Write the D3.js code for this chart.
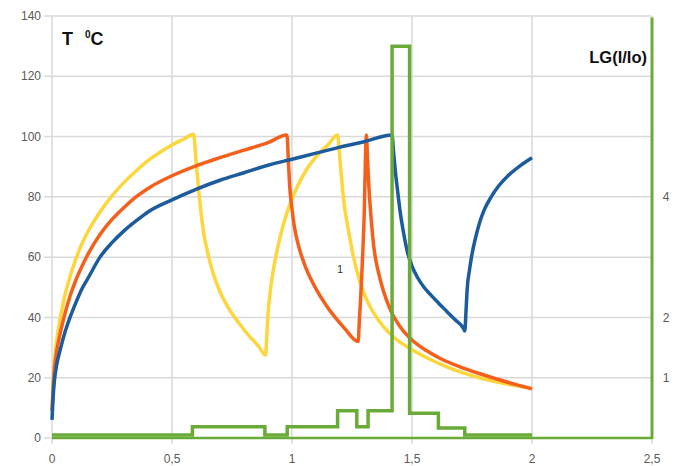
<!DOCTYPE html>
<html>
<head>
<meta charset="utf-8">
<script src="https://cdn.jsdelivr.net/npm/d3@7"></script>
<style>
  body { margin: 0; background: #fff; }
  text { font-family: "Liberation Sans", Arial, sans-serif; }
</style>
</head>
<body>
<div id="chart"></div>
<script>
// Temperature curves, [time, T]
const yellowSeries = [[0,9],[0.005,18],[0.01,25],[0.02,32.5],[0.035,40],[0.05,46],[0.075,53.5],[0.1,59.5],[0.125,64.5],[0.15,68.5],[0.2,75],[0.25,80.3],[0.3,84.8],[0.35,88.6],[0.4,92],[0.45,94.8],[0.5,97.2],[0.55,99.2],[0.59,100.8],
  [0.6,92],[0.61,83],[0.62,75.5],[0.63,69],[0.65,61],[0.67,55],[0.7,48.5],[0.74,42.5],[0.78,38],[0.82,34],[0.86,30.5],[0.89,27.5],
  [0.895,34],[0.9,41],[0.91,49],[0.925,57],[0.95,66.5],[0.98,75],[1.02,83],[1.06,89],[1.1,93.3],[1.15,97.3],[1.19,100.5],
  [1.2,92],[1.21,83],[1.22,76],[1.235,69],[1.25,62.5],[1.27,55.5],[1.3,48],[1.34,41.5],[1.38,37],[1.43,33],[1.5,29.3],[1.57,26.3],[1.64,23.8],[1.71,21.7],[1.78,20],[1.86,18.5],[1.93,17.4],[2.0,16.5]];

const orangeSeries = [[0,9],[0.005,17],[0.01,23],[0.02,29],[0.035,35],[0.05,40],[0.075,47],[0.1,52.5],[0.125,57],[0.15,61],[0.2,67.5],[0.25,72.5],[0.3,76.5],[0.35,80],[0.4,82.8],[0.5,87],[0.6,90.3],[0.7,93],[0.8,95.5],[0.9,98],[0.979,100.5],
  [0.985,92],[0.99,84],[1.0,76],[1.01,70],[1.03,63],[1.06,56],[1.1,49.5],[1.14,44.3],[1.18,40],[1.22,36.3],[1.276,32],
  [1.28,38],[1.285,45],[1.29,53],[1.3,72],[1.31,100.5],
  [1.315,92],[1.32,84],[1.33,72.5],[1.34,64],[1.36,55],[1.38,49],[1.41,42.5],[1.45,37],[1.5,32.5],[1.56,29],[1.62,26.3],[1.7,23.6],[1.78,21.4],[1.86,19.4],[1.93,17.8],[2.0,16.3]];

const blueSeries = [[0,6],[0.005,14],[0.01,19],[0.02,24.5],[0.035,29.5],[0.05,34],[0.075,40],[0.1,45],[0.125,49.5],[0.15,53],[0.2,60],[0.25,64.8],[0.3,68.7],[0.35,72],[0.4,75],[0.5,79],[0.6,82.5],[0.7,85.5],[0.8,88],[0.9,90.5],[1.0,92.5],[1.1,94.5],[1.2,96.5],[1.3,98.3],[1.417,100.5],
  [1.423,95],[1.43,89],[1.44,82],[1.45,75.5],[1.465,68],[1.48,62],[1.5,57],[1.525,53],[1.55,50],[1.58,47.3],[1.61,44.8],[1.645,42],[1.68,39.2],[1.715,36.3],[1.72,35.5],
  [1.725,42],[1.73,49.5],[1.74,56],[1.75,61],[1.765,66.5],[1.78,71],[1.8,75.5],[1.83,80],[1.86,83.5],[1.9,87],[1.95,90.3],[2.0,93]];

// LG(I/Io) step series (drawn on the temperature scale)
const greenX = [0, 0.585, 0.887, 0.98, 1.19, 1.27, 1.317, 1.417, 1.49, 1.61, 1.72, 2.0];
const greenY = [1, 3.7, 1, 3.7, 9, 3.7, 9, 130, 8.2, 3.3, 1, 1];

const xTicks = [0, 0.5, 1, 1.5, 2, 2.5];
const yTicks = [0, 20, 40, 60, 80, 100, 120, 140];
const rightTicks = [1, 2, 4];

const width = 677, height = 466;
const margin = { top: 16, right: 25, bottom: 28, left: 52 };

const svg = d3.select("#chart").append("svg")
    .attr("width", width)
    .attr("height", height);

const x = d3.scaleLinear().domain([0, 2.5]).range([margin.left, width - margin.right]);
const y = d3.scaleLinear().domain([0, 140]).range([height - margin.bottom, margin.top]);
const yRight = d3.scaleLinear().domain([0, 7]).range([height - margin.bottom, margin.top]);

const fmt = d => String(d).replace(".", ",");

// grid
svg.append("g").selectAll("line")
    .data(yTicks)
    .enter().append("line")
    .attr("x1", margin.left - 8)
    .attr("x2", x(2.5))
    .attr("y1", d => y(d))
    .attr("y2", d => y(d))
    .attr("stroke", "#d9d9d9")
    .attr("stroke-width", 1.5);

svg.append("g").selectAll("line")
    .data(xTicks)
    .enter().append("line")
    .attr("x1", d => x(d))
    .attr("x2", d => x(d))
    .attr("y1", y(140))
    .attr("y2", y(0) + 6)
    .attr("stroke", "#d9d9d9")
    .attr("stroke-width", 1.5);

// tick labels
svg.append("g").selectAll("text")
    .data(yTicks)
    .enter().append("text")
    .attr("x", margin.left - 11)
    .attr("y", d => y(d))
    .attr("dy", "0.35em")
    .style("text-anchor", "end")
    .style("font-size", "12px")
    .style("fill", "#595959")
    .text(d => d);

svg.append("g").selectAll("text")
    .data(xTicks)
    .enter().append("text")
    .attr("x", d => x(d))
    .attr("y", y(0) + 25)
    .style("text-anchor", "middle")
    .style("font-size", "12px")
    .style("fill", "#595959")
    .text(fmt);

svg.append("g").selectAll("text")
    .data(rightTicks)
    .enter().append("text")
    .attr("x", x(2.5) + 14)
    .attr("y", d => yRight(d))
    .attr("dy", "0.35em")
    .style("text-anchor", "middle")
    .style("font-size", "12px")
    .style("fill", "#595959")
    .text(d => d);

// curves
const line = d3.line().x(d => x(d[0])).y(d => y(d[1])).curve(d3.curveMonotoneX);

[[yellowSeries, "#fdd63c"], [orangeSeries, "#f4601c"], [blueSeries, "#1c5b9c"]].forEach(([s, c]) => {
    svg.append("path")
        .datum(s)
        .attr("d", line)
        .attr("fill", "none")
        .attr("stroke", c)
        .attr("stroke-width", 3.5)
        .attr("stroke-linejoin", "round");
});

// green step line + secondary axis lines
const greenData = greenX.map((v, i) => [v, greenY[i]]);
svg.append("path")
    .datum(greenData)
    .attr("d", d3.line().x(d => x(d[0])).y(d => y(d[1])).curve(d3.curveStepAfter))
    .attr("fill", "none")
    .attr("stroke", "#6aab38")
    .attr("stroke-width", 3.5);

svg.append("line")
    .attr("x1", x(0)).attr("x2", x(2.5))
    .attr("y1", y(0)).attr("y2", y(0))
    .attr("stroke", "#6aab38")
    .attr("stroke-width", 2.5);

svg.append("line")
    .attr("x1", x(2.5)).attr("x2", x(2.5))
    .attr("y1", y(0) + 1).attr("y2", y(139.5))
    .attr("stroke", "#6aab38")
    .attr("stroke-width", 3);

// titles
const tTitle = svg.append("text")
    .attr("x", 62)
    .attr("y", 45)
    .style("font-size", "18px")
    .style("font-weight", "bold")
    .style("fill", "#111");
tTitle.append("tspan").text("T");
tTitle.append("tspan").attr("dx", 12).attr("dy", -7).style("font-size", "10px").text("0");
tTitle.append("tspan").attr("dy", 7).text("C");

svg.append("text")
    .attr("x", 647)
    .attr("y", 63)
    .style("text-anchor", "end")
    .style("font-size", "16.5px")
    .style("font-weight", "bold")
    .style("fill", "#111")
    .text("LG(I/Io)");

svg.append("text")
    .attr("x", x(1.2))
    .attr("y", y(56))
    .attr("dy", "0.35em")
    .style("text-anchor", "middle")
    .style("font-size", "11px")
    .style("fill", "#333")
    .text("1");
</script>
</body>
</html>
